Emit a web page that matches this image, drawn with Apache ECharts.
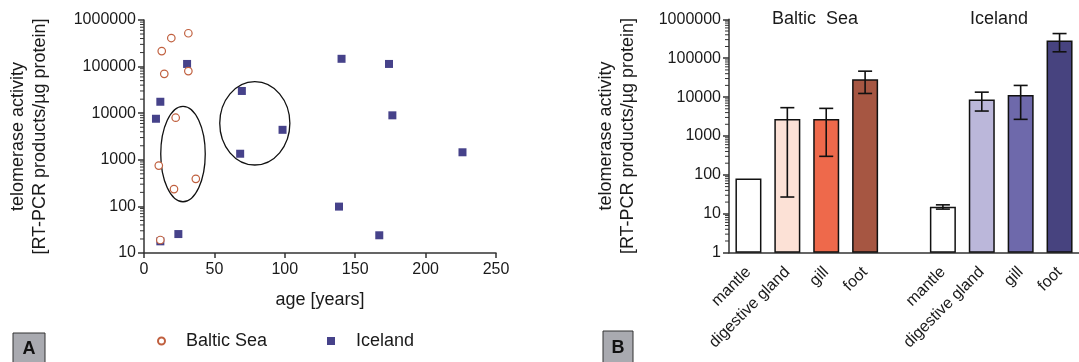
<!DOCTYPE html>
<html><head><meta charset="utf-8">
<script src="https://cdn.jsdelivr.net/npm/echarts@6/dist/echarts.min.js"></script>
<style>html,body{margin:0;padding:0;background:#fff}#c{width:1079px;height:362px}</style>
</head><body><div id="c"></div>
<script>
// ---- Panel A data: age [years] vs telomerase activity ----
const balticAge = [12.6, 19.4, 31.5, 14.4, 31.5, 22.5, 10.5, 36.8, 21.3, 11.6];
const balticAct = [215000, 410000, 520000, 70000, 80000, 8000, 750, 390, 235, 19];
const icelandAge = [30.6, 11.6, 8.5, 69.5, 98.4, 68.3, 140.3, 174, 176.4, 226.2, 138.5, 24.4, 167.1, 11.6];
const icelandAct = [114000, 17600, 7600, 30000, 4400, 1350, 147000, 114000, 9000, 1450, 99, 25.5, 24, 17.8];
// annotation ellipses: [centre age, centre activity, half-width (years), half-height (decades)]
const ellipses = [[27.7, 1330, 15.8, 1.024], [78.7, 6070, 24.9, 0.895]];
const ageTicks = [0, 50, 100, 150, 200, 250];

// ---- Panel B data: tissues ----
const tissues = ['mantle', 'digestive gland', 'gill', 'foot', '', 'mantle', 'digestive gland', 'gill', 'foot'];
const tissueMean = [81, 2730, 2730, 28900, null, 15.1, 8730, 11250, 284000];
const tissueLow  = [null, 27, 300, 12400, null, 13.2, 4380, 2680, 146000];
const tissueHigh = [null, 5350, 5130, 46400, null, 17, 13400, 19950, 430000];
const tissueColors = ['#ffffff', '#fce1d6', '#ee694b', '#a65642', '#ffffff', '#ffffff', '#bbb7da', '#6e69ab', '#47437f'];
const groupTitles = ['Baltic  Sea', 'Iceland'];

const FONT = 'Liberation Sans, Arial, sans-serif';
const TXT = '#1a1a1a';
const AX = '#333';

// log-axis minor tick values (2..9 x 10^k) between two decades
function minorValues(minExp, maxExp) {
  const out = [];
  for (let e = minExp; e < maxExp; e++) for (let m = 2; m <= 9; m++) out.push(m * Math.pow(10, e));
  return out;
}
// one custom item draws all minor ticks through the axis scale
function makeMinorTickRender(values, isCategory) {
  return function (params, api) {
    const children = values.map(function (v) {
      const p = api.coord([api.value(0), v]);
      let x = p[0];
      if (isCategory) x -= api.size([1, 0])[0] / 2;
      return { type: 'line', shape: { x1: x - 4, y1: p[1], x2: x, y2: p[1] }, style: { stroke: AX, lineWidth: 1 } };
    });
    return { type: 'group', children: children };
  };
}
const plainNum = v => String(Math.round(v));

const yName = 'telomerase activity\n[RT-PCR products/µg protein]';
const nameStyle = { fontFamily: FONT, fontSize: 18, color: TXT, lineHeight: 22 };
const labelStyle = { fontFamily: FONT, fontSize: 16, color: TXT };
const lineStyle = { color: AX, width: 1.5 };
const legendText = { fontFamily: FONT, fontSize: 18, color: TXT, padding: [0, 0, 0, 16] };

const chart = echarts.init(document.getElementById('c'), null, { renderer: 'canvas' });
chart.setOption({
  animation: false,
  textStyle: { fontFamily: FONT },
  title: [
    { text: groupTitles[0], left: 767, top: 5, textStyle: { fontFamily: FONT, fontSize: 18, fontWeight: 'normal', color: TXT } },
    { text: groupTitles[1], left: 965, top: 5, textStyle: { fontFamily: FONT, fontSize: 18, fontWeight: 'normal', color: TXT } }
  ],
  legend: [
    { data: [{ name: 'Baltic Sea', icon: 'circle' }], left: 152, top: 327, itemWidth: 7, itemHeight: 7, textStyle: legendText },
    { data: [{ name: 'Iceland', icon: 'rect' }], left: 322, top: 327, itemWidth: 8, itemHeight: 8, textStyle: legendText }
  ],
  grid: [
    { left: 144, top: 20, width: 352, height: 233 },
    { left: 729, top: 19.3, width: 351, height: 233.4 }
  ],
  xAxis: [
    { gridIndex: 0, type: 'value', min: ageTicks[0], max: ageTicks[ageTicks.length - 1], interval: 50,
      name: 'age [years]', nameLocation: 'middle', nameGap: 36, nameTextStyle: nameStyle,
      axisLine: { lineStyle: lineStyle }, axisTick: { length: 5, lineStyle: lineStyle },
      axisLabel: Object.assign({ margin: 9 }, labelStyle), splitLine: { show: false } },
    { gridIndex: 1, type: 'category', data: tissues,
      axisLine: { lineStyle: lineStyle }, axisTick: { alignWithLabel: true, length: 6, lineStyle: lineStyle },
      axisLabel: Object.assign({ rotate: 45, margin: 17, interval: 0 }, labelStyle) }
  ],
  yAxis: [
    { gridIndex: 0, type: 'log', logBase: 10, min: 10, max: 1000000,
      name: yName, nameLocation: 'middle', nameRotate: 90, nameGap: 93, nameTextStyle: nameStyle,
      axisLine: { show: true, lineStyle: lineStyle }, axisTick: { show: true, length: 6, lineStyle: lineStyle },
      axisLabel: Object.assign({ margin: 8, formatter: plainNum }, labelStyle), splitLine: { show: false } },
    { gridIndex: 1, type: 'log', logBase: 10, min: 1, max: 1000000,
      name: yName, nameLocation: 'middle', nameRotate: 90, nameGap: 90, nameTextStyle: nameStyle,
      axisLine: { show: true, lineStyle: lineStyle }, axisTick: { show: true, length: 6, lineStyle: lineStyle },
      axisLabel: Object.assign({ margin: 8, formatter: plainNum }, labelStyle), splitLine: { show: false } }
  ],
  graphic: [
    { type: 'rect', shape: { x: 13, y: 333, width: 32, height: 34 }, style: { fill: '#a9aab0', stroke: '#333', lineWidth: 1 } },
    { type: 'text', x: 29, y: 349, style: { text: 'A', fontFamily: FONT, fontSize: 18, fontWeight: 'bold', fill: '#111', align: 'center', verticalAlign: 'middle' } },
    { type: 'rect', shape: { x: 603, y: 331, width: 30, height: 36 }, style: { fill: '#a9aab0', stroke: '#333', lineWidth: 1 } },
    { type: 'text', x: 618, y: 348, style: { text: 'B', fontFamily: FONT, fontSize: 18, fontWeight: 'bold', fill: '#111', align: 'center', verticalAlign: 'middle' } }
  ],
  series: [
    { name: 'Baltic Sea', type: 'scatter', xAxisIndex: 0, yAxisIndex: 0, symbol: 'circle', symbolSize: 7.5,
      itemStyle: { color: '#ffffff', borderColor: '#c0603f', borderWidth: 1.2, opacity: 1 },
      data: balticAge.map((a, i) => [a, balticAct[i]]), z: 3 },
    { name: 'Iceland', type: 'scatter', xAxisIndex: 0, yAxisIndex: 0, symbol: 'rect', symbolSize: 8,
      itemStyle: { color: '#46428a', opacity: 1 },
      data: icelandAge.map((a, i) => [a, icelandAct[i]]), z: 2 },
    { type: 'custom', xAxisIndex: 0, yAxisIndex: 0, clip: false, silent: true, data: ellipses,
      renderItem: function (params, api) {
        const cx = api.value(0), cy = api.value(1), rx = api.value(2), ry = api.value(3);
        const c = api.coord([cx, cy]);
        const r = api.coord([cx + rx, cy]);
        const t = api.coord([cx, cy * Math.pow(10, ry)]);
        return { type: 'ellipse', shape: { cx: c[0], cy: c[1], rx: r[0] - c[0], ry: c[1] - t[1] },
          style: { fill: 'none', stroke: '#111', lineWidth: 1.3 } };
      } },
    { type: 'custom', xAxisIndex: 0, yAxisIndex: 0, clip: false, silent: true, z: 5,
      data: [[0, 1000]], renderItem: makeMinorTickRender(minorValues(1, 6), false) },
    { type: 'bar', xAxisIndex: 1, yAxisIndex: 1, barWidth: 26,
      data: tissueMean.map((v, i) => ({ value: v, itemStyle: { color: tissueColors[i], borderColor: '#111', borderWidth: 1.5 } })) },
    { type: 'custom', xAxisIndex: 1, yAxisIndex: 1, clip: false, silent: true, z: 5,
      data: tissueMean.map((v, i) => [i, tissueLow[i], tissueHigh[i]]).filter(d => d[1] != null),
      renderItem: function (params, api) {
        const lo = api.coord([api.value(0), api.value(1)]);
        const hi = api.coord([api.value(0), api.value(2)]);
        const w = 7;
        const st = { stroke: '#111', lineWidth: 1.6 };
        return { type: 'group', children: [
          { type: 'line', shape: { x1: lo[0], y1: lo[1], x2: hi[0], y2: hi[1] }, style: st },
          { type: 'line', shape: { x1: hi[0] - w, y1: hi[1], x2: hi[0] + w, y2: hi[1] }, style: st },
          { type: 'line', shape: { x1: lo[0] - w, y1: lo[1], x2: lo[0] + w, y2: lo[1] }, style: st }
        ] };
      } },
    { type: 'custom', xAxisIndex: 1, yAxisIndex: 1, clip: false, silent: true, z: 5,
      data: [[0, 1000]], renderItem: makeMinorTickRender(minorValues(0, 6), true) }
  ]
});
</script></body></html>
